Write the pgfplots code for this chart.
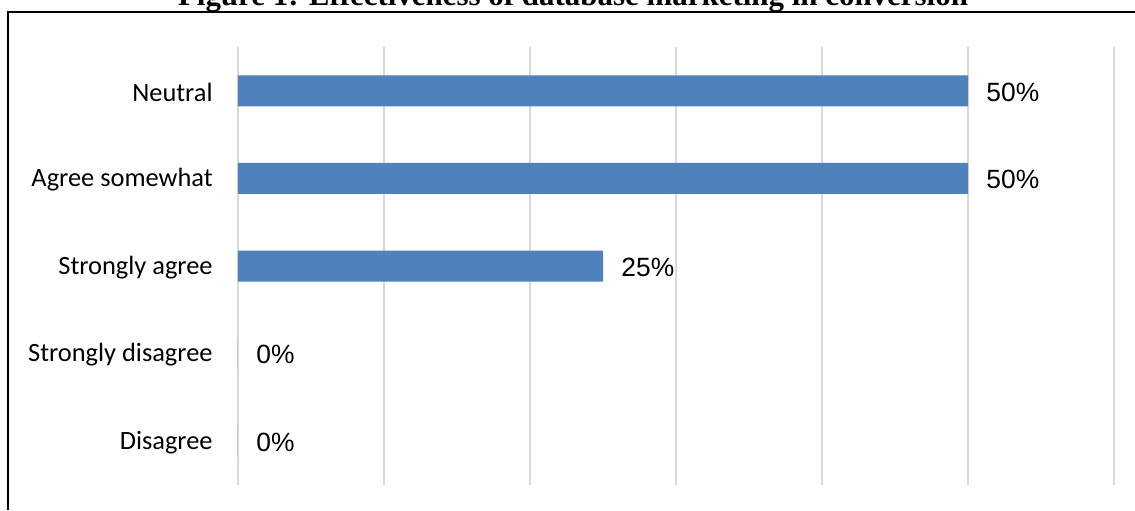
\documentclass[border=0pt]{standalone}
\usepackage{fontspec}
\setmainfont{Carlito}
\newfontfamily\arialf{Liberation Sans}
\newfontfamily\titlef{Liberation Serif}
\usepackage{pgfplots}
\pgfplotsset{compat=1.18}
\definecolor{barblue}{HTML}{4F81BD}
\definecolor{gridgray}{HTML}{D9D9D9}
\begin{document}
\begin{tikzpicture}
\useasboundingbox (0pt,0pt) rectangle (567.5pt,255pt);
\begin{axis}[
  at={(119pt,12.5pt)}, anchor=south west,
  scale only axis, width=438pt, height=219pt,
  xbar, bar width=15.5pt,
  xmin=0, xmax=60, ymin=-0.5, ymax=4.5,
  axis line style={draw=none},
  xtick={0,10,...,60}, xticklabels={},
  xmajorgrids, grid style={gridgray, line width=0.75pt},
  major tick length=0pt,
  ytick={0,1,2,3,4},
  yticklabels={Disagree, Strongly disagree, Strongly agree, Agree somewhat, Neutral},
  yticklabel style={font=\fontsize{13.2}{15}\selectfont, inner sep=0pt, anchor=east, xshift=-12.5pt, yshift=-0.6pt},
  /pgf/number format/assume math mode=true,
  nodes near coords={\pgfmathprintnumber{\pgfplotspointmeta}\%},
  nodes near coords style={font=\arialf\fontsize{13.2}{15}\selectfont, anchor=west, inner sep=0pt, xshift=9pt, yshift=-0.6pt, text=black},
  point meta=x,
]
\addplot[fill=barblue, draw=none] coordinates {(0,0) (0,1) (25,2) (50,3) (50,4)};
\end{axis}
\draw[line width=0.75pt] (4pt,0pt) -- (4pt,249pt) -- (567.5pt,249pt);
\node[anchor=base, inner sep=0pt] at (286.5pt,252pt) {\resizebox{395pt}{!}{\titlef\bfseries Figure 1: Effectiveness of database marketing in conversion}};
\end{tikzpicture}
\end{document}
